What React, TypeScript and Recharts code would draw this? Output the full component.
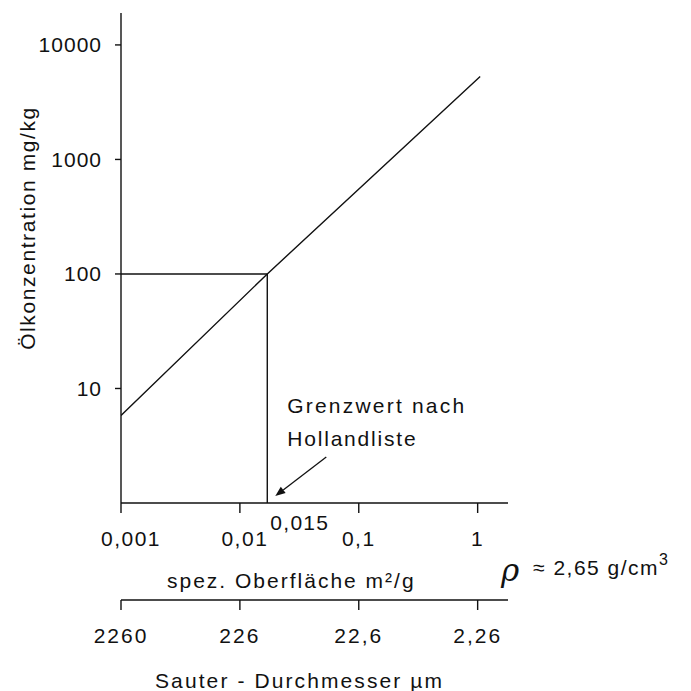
import { LineChart, Line, XAxis, YAxis, ReferenceLine } from "recharts";

const SURFACE_TICKS = [0.001, 0.01, 0.1, 1];
const SURFACE_LABELS = ["0,001", "0,01", "0,1", "1"];
const SAUTER_LABELS = ["2260", "226", "22,6", "2,26"];
const OIL_TICKS = [10, 100, 1000, 10000];
const LINE_SURFACE = [0.001, 0.017, 1.05];
const LINE_OIL = [5.8, 100, 5300];
const LIMIT_SURFACE = 0.017;
const LIMIT_OIL = 100;
const LIMIT_LABEL = "0,015";
const DENSITY = "2,65";

const data = LINE_SURFACE.map((x, i) => ({ x, y: LINE_OIL[i] }));

const FONT = "'Liberation Sans', Arial, sans-serif";
const INK = "#111";
// the scanned labels sit a little right of their ticks on the left side
const SURFACE_NUDGE = [10, 5, 0, 0];

const txt = { fill: INK, fontFamily: FONT };

function SurfaceTick(props: any) {
  const { x, y, index, payload } = props;
  const i = SURFACE_TICKS.indexOf(payload.value);
  return (
    <text x={x + (SURFACE_NUDGE[index] ?? 0)} y={y} dy="0.71em" textAnchor="middle" fontSize={21} letterSpacing={1.5} {...txt}>
      {SURFACE_LABELS[i]}
    </text>
  );
}

function OilTitle(props: any) {
  const vb = props.viewBox ?? { x: 0, y: 13 };
  const x = vb.x + 35;
  const y = vb.y + 215;
  return (
    <text x={x} y={y} transform={`rotate(-90 ${x} ${y})`} textAnchor="middle" fontSize={21} letterSpacing={1.6} {...txt}>
      Ölkonzentration mg/kg
    </text>
  );
}

function SurfaceTitle(props: any) {
  const vb = props.viewBox ?? { x: 121, y: 503 };
  return (
    <g>
      <text x={vb.x + 46} y={vb.y + 77} dominantBaseline="central" fontSize={21} letterSpacing={2} {...txt}>
        spez. Oberfläche m²/g
      </text>
      <text x={vb.x + 380} y={vb.y + 78} fontSize={31} fontStyle="italic" fill={INK} fontFamily="'DejaVu Serif', serif">
        ρ
      </text>
      <text x={vb.x + 412} y={vb.y + 64} dominantBaseline="central" fontSize={21} letterSpacing={1.5} {...txt}>
        ≈ {DENSITY} g/cm<tspan dy={-8} fontSize={16}>3</tspan>
      </text>
    </g>
  );
}

function SauterTitle(props: any) {
  const vb = props.viewBox ?? { x: 121, y: 600 };
  return (
    <text x={vb.x + 34} y={vb.y + 80} dominantBaseline="central" fontSize={21} letterSpacing={2.1} {...txt}>
      Sauter - Durchmesser µm
    </text>
  );
}

function LimitNote(props: any) {
  const vb = props.viewBox ?? { x: 267, y: 277, height: 226 };
  const x = vb.x;
  const bottom = vb.y + (vb.height ?? 0);
  const x1 = x + 59;
  const y1 = bottom - 46;
  const x2 = x + 8;
  const y2 = bottom - 7;
  const ang = Math.atan2(y2 - y1, x2 - x1);
  const len = 10;
  const w = 4;
  const bx = x2 - len * Math.cos(ang);
  const by = y2 - len * Math.sin(ang);
  const head = `${x2},${y2} ${bx + w * Math.sin(ang)},${by - w * Math.cos(ang)} ${bx - w * Math.sin(ang)},${by + w * Math.cos(ang)}`;
  return (
    <g>
      <text x={x + 3} y={bottom + 19} dominantBaseline="central" fontSize={21} letterSpacing={1.3} {...txt}>
        {LIMIT_LABEL}
      </text>
      <text x={x + 20} y={bottom - 98} dominantBaseline="central" fontSize={21} letterSpacing={2.2} {...txt}>
        Grenzwert nach
      </text>
      <text x={x + 20} y={bottom - 65} dominantBaseline="central" fontSize={21} letterSpacing={1.8} {...txt}>
        Hollandliste
      </text>
      <line x1={x1} y1={y1} x2={bx} y2={by} stroke={INK} strokeWidth={1.3} />
      <polygon points={head} fill={INK} />
    </g>
  );
}

export default function App() {
  return (
    <div style={{ position: "absolute", left: 0, top: 0, width: 691, height: 691, background: "#fff" }}>
      <LineChart width={691} height={691} data={data} margin={{ top: 13, right: 183, bottom: 31, left: 0 }}>
        <XAxis
          xAxisId="a"
          dataKey="x"
          type="number"
          scale="log"
          domain={[0.001, 1.8]}
          allowDataOverflow
          ticks={SURFACE_TICKS}
          tick={<SurfaceTick />}
          height={97}
          tickSize={10}
          tickMargin={18}
          stroke={INK}
          strokeWidth={1.4}
          label={{ content: SurfaceTitle }}
        />
        <XAxis
          xAxisId="b"
          dataKey="x"
          type="number"
          scale="log"
          domain={[0.001, 1.8]}
          allowDataOverflow
          ticks={SURFACE_TICKS}
          tickFormatter={(v) => SAUTER_LABELS[SURFACE_TICKS.indexOf(v)]}
          height={60}
          tickSize={10}
          tickMargin={18}
          stroke={INK}
          strokeWidth={1.4}
          tick={{ fill: INK, fontSize: 21, fontFamily: FONT, letterSpacing: 2 }}
          label={{ content: SauterTitle }}
        />
        <YAxis
          yAxisId="c"
          type="number"
          scale="log"
          domain={[1, 19000]}
          allowDataOverflow
          ticks={OIL_TICKS}
          width={121}
          tickSize={6}
          tickMargin={13}
          stroke={INK}
          strokeWidth={1.4}
          tick={{ fill: INK, fontSize: 21, fontFamily: FONT, letterSpacing: 1 }}
          label={{ content: OilTitle }}
        />
        <ReferenceLine
          xAxisId="a"
          yAxisId="c"
          segment={[
            { x: 0.001, y: LIMIT_OIL },
            { x: LIMIT_SURFACE, y: LIMIT_OIL },
          ]}
          stroke={INK}
          strokeWidth={1.4}
        />
        <ReferenceLine
          xAxisId="a"
          yAxisId="c"
          segment={[
            { x: LIMIT_SURFACE, y: 1 },
            { x: LIMIT_SURFACE, y: LIMIT_OIL },
          ]}
          stroke={INK}
          strokeWidth={1.4}
          label={{ content: LimitNote }}
        />
        <Line
          xAxisId="a"
          yAxisId="c"
          dataKey="y"
          type="linear"
          stroke={INK}
          strokeWidth={1.4}
          dot={false}
          isAnimationActive={false}
        />
      </LineChart>
    </div>
  );
}
